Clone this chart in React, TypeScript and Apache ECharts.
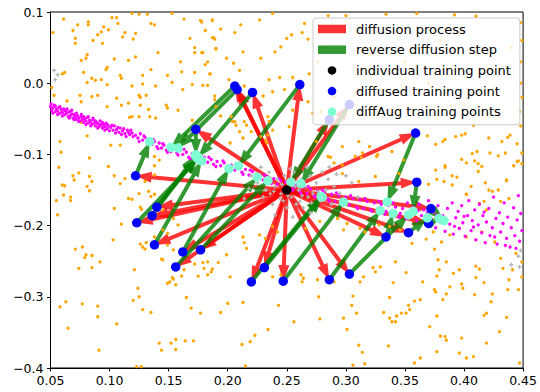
import React, { useEffect, useRef } from 'react';
import * as echarts from 'echarts';

const xTickLabels = ['0.05', '0.10', '0.15', '0.20', '0.25', '0.30', '0.35', '0.40', '0.45'];
const yTickLabels = ['−0.4', '−0.3', '−0.2', '−0.1', '0.0', '0.1'];

const legendNames = [
  'diffusion process',
  'reverse diffusion step',
  'individual training point',
  'diffused training point',
  'diffAug training points',
];

const trainingPoint = [[0.25, -0.15]];

const diffusedPoints = [
  [0.206, -0.004], [0.208, -0.009], [0.221, -0.013], [0.261, -0.002], [0.173, -0.065],
  [0.359, -0.070], [0.122, -0.130], [0.360, -0.139], [0.140, -0.174], [0.136, -0.186],
  [0.123, -0.196], [0.372, -0.176], [0.370, -0.197], [0.353, -0.210], [0.334, -0.216],
  [0.138, -0.227], [0.162, -0.237], [0.177, -0.234], [0.156, -0.258], [0.231, -0.259],
  [0.220, -0.279], [0.247, -0.278], [0.286, -0.276], [0.303, -0.268], [0.303, -0.030],
  [0.286, -0.051],
];

const augPoints = [
  [0.152, -0.090], [0.158, -0.091], [0.175, -0.104], [0.209, -0.116], [0.173, -0.101],
  [0.335, -0.167], [0.134, -0.082], [0.357, -0.180], [0.174, -0.105], [0.173, -0.101],
  [0.175, -0.106], [0.383, -0.193], [0.379, -0.190], [0.369, -0.189], [0.340, -0.183],
  [0.178, -0.109], [0.201, -0.120], [0.234, -0.137], [0.225, -0.132], [0.280, -0.160],
  [0.279, -0.159], [0.298, -0.167], [0.329, -0.179], [0.353, -0.185], [0.262, -0.141],
  [0.2535, -0.139],
];

const orangePoints = [
  [.061,.090],[.073,.082],[.082,.086],[.082,.082],[.095,.079],[.102,.092],[.106,.092],[.107,.084],[.119,.098],[.125,.097],
  [.132,.097],[.153,.098],[.163,.090],[.177,.088],[.187,.088],[.052,.071],[.069,.074],[.071,.063],[.071,.056],[.086,.060],
  [.090,.068],[.093,.072],[.094,.056],[.099,.075],[.113,.071],[.111,.065],[.120,.062],[.122,.070],[.135,.084],[.138,.082],
  [.168,.063],[.172,.050],[.172,.043],[.178,.043],[.188,.064],[.190,.049],[.081,.040],[.080,.035],[.076,.032],[.104,.034],
  [.116,.032],[.122,.037],[.141,.043],[.160,.030],[.161,.016],[.149,.011],[.135,.019],[.128,.011],[.109,.011],[.110,.007],
  [.098,.022],[.097,.019],[.078,.015],[.062,.015],[.060,.013],[.081,.001],[.085,.007],[.088,.004],[.093,.005],[.098,-.002],
  [.119,-.004],[.128,-.001],[.139,-.004],[.153,.001],[.162,-.009],[.170,-.002],[.172,.015],[.185,.013],[.189,-.018],[.051,-.006],
  [.053,-.017],[.064,-.025],[.075,-.017],[.076,-.026],[.085,-.019],[.090,-.017],[.098,-.033],[.106,-.021],[.110,-.031],[.116,-.028],
  [.125,-.017],[.126,-.020],[.126,-.031],[.131,-.017],[.133,-.037],[.134,-.047],[.139,-.049],[.148,-.031],[.149,-.035],[.158,-.038],
  [.117,-.048],[.119,-.047],[.125,-.047],[.076,-.055],[.081,-.074],[.058,-.082],[.059,-.097],[.101,-.087],[.109,-.087],[.083,-.105],
  [.057,-.118],[.074,-.126],[.069,-.130],[.083,-.131],[.085,-.138],[.099,-.117],[.104,-.130],[.138,-.103],[.142,-.108],[.138,-.116],
  [.060,-.143],[.062,-.144],[.070,-.136],[.081,-.145],[.109,-.141],[.113,-.134],[.130,-.138],[.138,-.129],[.190,-.033],[.194,-.046],
  [.170,-.052],
  [.061,-.157],[.067,-.160],[.067,-.165],[.083,-.151],[.055,-.165],[.056,-.185],[.116,-.162],[.119,-.163],[.125,-.155],[.133,-.152],
  [.135,-.159],[.138,-.156],[.126,-.174],[.127,-.177],[.104,-.176],[.110,-.198],[.145,-.178],[.154,-.190],[.158,-.199],[.145,-.206],
  [.149,-.211],[.103,-.220],[.126,-.226],[.128,-.230],[.131,-.224],[.130,-.233],[.138,-.216],[.149,-.227],[.154,-.234],[.071,-.233],
  [.077,-.230],[.080,-.241],[.079,-.245],[.085,-.242],[.092,-.251],[.074,-.260],[.085,-.259],[.121,-.262],[.144,-.247],[.145,-.248],
  [.163,-.262],[.172,-.254],[.179,-.252],[.183,-.251],[.180,-.260],[.186,-.265],[.187,-.261],[.175,-.271],[.183,-.269],[.192,-.252],
  [.199,-.241],[.202,-.272],[.213,-.216],[.214,-.224],[.216,-.232],[.153,-.273],[.154,-.275],[.151,-.279],[.149,-.281],[.156,-.283],
  [.161,-.271],[.124,-.288],[.125,-.300],[.120,-.305],[.128,-.318],[.135,-.322],[.165,-.301],[.169,-.316],[.177,-.323],[.194,-.322],
  [.200,-.309],[.213,-.308],[.058,-.314],[.063,-.307],[.077,-.310],[.090,-.313],[.090,-.328],[.106,-.338],[.065,-.344],[.091,-.375],
  [.142,-.365],[.144,-.375],[.152,-.365],[.156,-.360],[.156,-.374],[.164,-.362],[.171,-.362],[.212,-.367],[.215,-.397],[.123,-.398],
  [.127,-.398],
  [.227,-.213],[.232,-.218],[.238,-.201],[.242,-.209],[.266,-.204],[.278,-.194],[.293,-.190],[.298,-.206],[.301,-.197],[.312,-.204],
  [.316,-.209],[.328,-.199],[.337,-.201],[.346,-.206],[.351,-.213],[.356,-.225],[.368,-.219],[.374,-.209],[.375,-.233],[.381,-.223],
  [.388,-.213],[.396,-.204],[.402,-.156],[.413,-.169],[.417,-.166],[.419,-.178],[.431,-.166],[.438,-.162],[.402,-.216],[.410,-.220],
  [.415,-.209],[.426,-.223],[.431,-.246],[.433,-.260],[.441,-.262],[.449,-.251],[.449,-.272],[.446,-.290],[.437,-.290],[.424,-.296],
  [.417,-.280],[.410,-.273],[.396,-.262],[.398,-.282],[.399,-.288],[.409,-.297],[.423,-.307],[.419,-.323],[.417,-.326],[.436,-.329],
  [.430,-.349],[.419,-.365],[.402,-.386],[.396,-.379],[.398,-.358],[.385,-.361],[.384,-.356],[.380,-.355],[.371,-.342],[.377,-.377],
  [.377,-.327],[.382,-.304],[.385,-.296],[.375,-.290],[.376,-.293],[.379,-.262],[.385,-.251],[.378,-.248],[.365,-.279],[.363,-.304],
  [.358,-.306],[.353,-.312],[.354,-.318],[.351,-.323],[.347,-.323],[.343,-.327],[.337,-.330],[.342,-.335],[.339,-.335],[.332,-.322],
  [.337,-.301],[.342,-.251],[.329,-.258],[.323,-.259],[.315,-.272],[.312,-.279],[.306,-.299],[.305,-.312],[.309,-.323],[.301,-.346],
  [.298,-.330],[.277,-.300],[.278,-.331],[.264,-.274],[.263,-.279],[.243,-.312],[.234,-.346],[.223,-.354],[.219,-.363],[.256,-.335],
  [.311,-.368],[.314,-.378],[.316,-.394],[.306,-.396],[.336,-.369],[.358,-.393],[.363,-.386],[.447,-.393],[.408,-.384],[.245,-.269],
  [.238,-.272],[.262,-.269],[.276,-.276],[.290,-.279],[.340,-.280],[.325,-.265],[.351,-.266],[.377,-.271],[.391,-.267],[.388,-.286],
  [.410,-.257],[.413,-.261],[.438,-.276],[.444,-.239],
  [.178,.086],[.187,.089],[.181,.074],[.194,.076],[.206,.071],[.211,.082],[.227,.089],[.238,.098],[.265,.084],[.187,.064],
  [.189,.062],[.190,.048],[.179,.043],[.199,.035],[.205,.028],[.213,.044],[.210,.018],[.228,.035],[.183,.030],[.181,.026],
  [.185,.013],[.254,.068],[.250,.063],[.263,.071],[.268,.062],[.245,.051],[.240,.044],[.269,.013],[.255,.008],[.244,.008],
  [.235,.005],[.248,-.009],[.238,-.012],[.230,-.018],[.179,-.003],[.183,-.003],[.189,-.023],[.201,.005],[.214,-.004],
  [.408,-.059],[.369,-.074],[.376,-.086],[.382,-.082],[.384,-.079],[.393,-.075],[.398,-.073],[.401,-.071],[.421,-.077],[.432,-.082],
  [.437,-.076],[.439,-.073],[.445,-.085],[.407,-.099],[.411,-.096],[.409,-.109],[.412,-.113],[.412,-.124],[.415,-.117],[.422,-.098],
  [.435,-.098],[.445,-.110],[.398,-.107],[.402,-.112],[.376,-.122],[.384,-.118],[.394,-.132],[.370,-.142],[.383,-.138],[.390,-.143],
  [.402,-.156],[.421,-.150],[.424,-.152],[.429,-.150],[.436,-.137],[.449,-.113],[.449,-.098],
  [.287,-.104],[.290,-.112],[.297,-.115],[.314,-.098],[.327,-.100],[.313,-.104],[.377,-.135],[.384,-.116],[.429,-.102],[.442,-.116],
  [.446,-.109],[.436,-.136],[.418,-.140],[.406,-.145],[.390,-.130],[.325,-.131],[.311,-.138],
  [.311,-.082],[.320,-.089],[.326,-.103],[.339,-.096],[.308,-.103],[.297,-.089],[.297,-.127],[.285,-.103],[.275,-.082],[.345,-.127],
  [.349,-.108],
  [.204,-.054],[.207,-.059],[.214,-.054],[.210,-.068],[.213,-.077],[.202,-.084],[.235,-.054],[.234,-.073],[.233,-.084],
  [.203,-.047],[.206,-.054],[.216,-.059],[.234,-.047],[.238,-.066],[.228,-.075],[.232,-.080],[.220,-.068],[.255,-.038],[.268,-.026],
  [.272,-.042],[.252,-.061],
  [.280,.050],[.310,.070],[.350,.030],[.380,.060],[.420,.020],[.440,.050],[.330,-.010],[.400,-.030],[.290,-.020],[.370,.000],
  [.300,.095],[.360,.098],[.410,.094],[.449,.060],[.448,.000],[.447,-.040],[.320,.040],[.430,-.045],[.285,.095],[.334,.097],
  [.392,.096],[.448,.085],[.448,.030],[.449,-.020],[.448,-.060],[.276,.030],[.279,-.040],[.277,.075],
];

const magentaPoints = [
  [.050,-.033],[.051,-.038],[.052,-.035],[.053,-.031],[.054,-.040],[.055,-.036],[.056,-.039],[.057,-.034],[.058,-.042],[.059,-.037],
  [.060,-.041],[.061,-.036],[.062,-.044],[.063,-.039],[.064,-.042],[.065,-.047],[.066,-.040],[.067,-.045],[.068,-.043],[.069,-.049],
  [.070,-.044],[.071,-.047],[.072,-.051],[.073,-.046],[.074,-.049],[.075,-.053],[.076,-.047],[.077,-.051],[.078,-.055],[.079,-.050],
  [.080,-.053],[.081,-.048],[.082,-.056],[.083,-.052],[.084,-.054],[.085,-.058],[.086,-.051],[.087,-.056],[.088,-.060],[.089,-.055],
  [.090,-.057],[.091,-.061],[.092,-.053],[.093,-.059],[.094,-.063],[.095,-.058],[.096,-.061],[.097,-.056],[.098,-.064],[.099,-.060],
  [.101,-.062],[.103,-.066],[.104,-.060],[.106,-.065],[.108,-.069],[.109,-.063],[.111,-.067],[.113,-.071],[.115,-.066],[.117,-.072],
  [.119,-.070],[.120,-.075],
  [.0505,-.029],[.052,-.042],[.054,-.032],[.056,-.044],[.058,-.033],[.060,-.046],[.062,-.038],[.064,-.036],[.066,-.049],[.068,-.038],
  [.070,-.051],[.072,-.042],[.074,-.054],[.076,-.044],[.078,-.047],[.080,-.058],[.082,-.047],[.084,-.060],[.086,-.049],[.088,-.053],
  [.090,-.063],[.092,-.058],[.094,-.055],[.096,-.066],[.098,-.058],[.100,-.067],[.102,-.059],[.105,-.070],[.107,-.062],[.110,-.072],
  [.112,-.064],[.114,-.075],[.116,-.069],[.118,-.066],
  [.122,-.073],[.124,-.077],[.126,-.071],[.128,-.080],[.130,-.076],[.132,-.083],[.134,-.079],[.136,-.086],[.138,-.082],[.140,-.089],
  [.142,-.084],[.144,-.091],[.146,-.087],[.148,-.094],[.150,-.089],[.152,-.096],[.155,-.092],[.157,-.098],[.160,-.094],[.162,-.100],
  [.165,-.097],[.167,-.104],[.170,-.099],[.172,-.106],[.175,-.102],[.178,-.108],[.180,-.104],[.183,-.111],[.186,-.107],[.188,-.114],
  [.191,-.110],[.194,-.116],[.197,-.112],[.200,-.119],[.203,-.115],[.206,-.122],[.209,-.118],[.212,-.125],[.215,-.121],[.218,-.129],
  [.221,-.124],[.224,-.132],[.227,-.128],[.230,-.136],[.233,-.131],[.236,-.139],[.239,-.134],[.242,-.142],[.245,-.137],[.248,-.146],
  [.125,-.082],[.129,-.074],[.133,-.086],[.137,-.079],[.141,-.092],[.145,-.085],[.149,-.097],[.153,-.090],[.158,-.101],[.163,-.093],
  [.168,-.106],[.173,-.100],[.179,-.112],[.184,-.104],[.190,-.117],[.196,-.109],[.201,-.122],[.207,-.114],[.213,-.128],[.219,-.122],
  [.225,-.135],[.231,-.129],[.237,-.141],[.243,-.134],[.249,-.139],
  [.252,-.141],[.255,-.150],[.258,-.143],[.261,-.152],[.264,-.146],[.267,-.155],[.270,-.149],[.273,-.158],[.276,-.151],[.279,-.161],
  [.282,-.153],[.285,-.163],[.288,-.156],[.291,-.166],[.294,-.158],[.297,-.168],[.300,-.160],[.303,-.171],[.306,-.162],[.309,-.174],
  [.312,-.164],[.315,-.176],[.318,-.166],[.321,-.178],[.324,-.168],[.327,-.181],[.330,-.170],[.333,-.184],[.336,-.172],[.339,-.186],
  [.342,-.174],[.345,-.188],[.348,-.176],[.351,-.190],
  [.256,-.146],[.262,-.155],[.268,-.145],[.274,-.160],[.280,-.150],[.286,-.166],[.292,-.154],[.298,-.170],[.304,-.158],[.310,-.176],
  [.316,-.162],[.322,-.180],[.328,-.166],[.334,-.180],[.340,-.168],[.346,-.183],
  [.352,-.168],[.355,-.182],[.357,-.174],[.360,-.193],[.362,-.170],[.364,-.186],[.366,-.178],[.368,-.199],[.370,-.165],[.372,-.190],
  [.374,-.181],[.376,-.203],[.378,-.172],[.380,-.195],[.382,-.186],[.384,-.208],[.386,-.176],[.388,-.198],[.390,-.168],[.391,-.212],
  [.393,-.189],[.395,-.180],[.396,-.204],[.398,-.172],[.399,-.196],[.401,-.215],[.403,-.186],[.404,-.165],[.406,-.207],[.407,-.193],
  [.409,-.178],[.410,-.220],[.412,-.199],[.413,-.170],[.415,-.210],[.416,-.186],[.418,-.224],[.419,-.195],[.421,-.176],[.422,-.214],
  [.424,-.203],[.425,-.160],[.427,-.190],[.428,-.226],[.430,-.182],[.431,-.209],[.433,-.197],[.434,-.168],[.436,-.218],[.437,-.188],
  [.439,-.230],[.440,-.203],[.442,-.175],[.443,-.214],[.445,-.192],[.446,-.158],[.447,-.222],[.448,-.183],[.449,-.207],[.444,-.232],
  [.435,-.228],[.426,-.216],[.417,-.181],[.408,-.202],[.400,-.187],[.392,-.201],[.385,-.193],[.377,-.185],[.369,-.182],[.361,-.179],
];

const grayPoints = [
  [.220,-.130],[.225,-.140],[.230,-.160],[.235,-.125],[.238,-.170],[.240,-.145],[.242,-.135],[.245,-.155],[.247,-.165],[.248,-.130],
  [.252,-.140],[.254,-.160],[.256,-.125],[.258,-.170],[.260,-.150],[.262,-.135],[.264,-.175],[.266,-.145],[.268,-.160],[.270,-.130],
  [.272,-.155],[.275,-.140],[.278,-.165],[.280,-.125],[.283,-.150],[.285,-.135],[.288,-.170],[.290,-.145],[.295,-.155],[.300,-.130],
  [.232,-.150],[.236,-.155],[.244,-.162],[.250,-.175],[.253,-.120],[.257,-.145],[.263,-.158],[.267,-.118],[.271,-.168],[.276,-.152],
  [.228,-.118],[.218,-.148],[.214,-.162],[.240,-.185],[.255,-.188],[.270,-.182],[.286,-.118],[.292,-.128],[.305,-.140],[.310,-.160],
  [.246,-.142],[.251,-.158],[.259,-.138],[.239,-.152],[.261,-.166],
  [.053,.018],[.056,.012],[.054,.005],[.447,-.258],[.446,-.243],[.448,-.235],[.440,-.255],
];

const RED = 'rgba(255,0,0,0.8)';
const GREEN = 'rgba(0,128,0,0.8)';
const SHAFT = 2;
const HEAD_W = 5.5;
const HEAD_LEN = 16;

const makeArrow = (fill: string) => (_params: any, api: any) => {
  const a = api.coord([api.value(0), api.value(1)]);
  const b = api.coord([api.value(2), api.value(3)]);
  const dx = b[0] - a[0];
  const dy = b[1] - a[1];
  const L = Math.hypot(dx, dy) || 1;
  const ux = dx / L, uy = dy / L;
  const nx = -uy, ny = ux;
  const hl = Math.min(HEAD_LEN, L);
  const bx = b[0] - ux * hl, by = b[1] - uy * hl;
  const pts = [
    [a[0] + nx * SHAFT, a[1] + ny * SHAFT],
    [bx + nx * SHAFT, by + ny * SHAFT],
    [bx + nx * HEAD_W, by + ny * HEAD_W],
    [b[0], b[1]],
    [bx - nx * HEAD_W, by - ny * HEAD_W],
    [bx - nx * SHAFT, by - ny * SHAFT],
    [a[0] - nx * SHAFT, a[1] - ny * SHAFT],
  ];
  return { type: 'polygon', shape: { points: pts }, style: { fill } };
};

const FONT = 'DejaVu Sans';

export default function App() {
  const ref = useRef<HTMLDivElement>(null);
  useEffect(() => {
    if (!ref.current) return;
    const chart = echarts.init(ref.current, undefined, { renderer: 'svg' });
    const c = trainingPoint[0];
    const redData = diffusedPoints.map((p) => [c[0], c[1], p[0], p[1]]);
    const greenData = diffusedPoints.map((p, i) => [p[0], p[1], augPoints[i][0], augPoints[i][1]]);
    const axisCommon = {
      type: 'value' as const,
      axisLine: { show: true, onZero: false, lineStyle: { color: '#000', width: 1 } },
      axisTick: { show: true, length: 3.5, inside: false, lineStyle: { color: '#000', width: 1 } },
      splitLine: { show: false },
    };
    chart.setOption({
      animation: false,
      backgroundColor: '#fff',
      grid: { left: 50.5, right: 14, top: 12, bottom: 24, show: true, borderColor: '#000', borderWidth: 1 },
      xAxis: {
        ...axisCommon,
        min: 0.05, max: 0.45, interval: 0.05,
        axisLabel: {
          color: '#000', fontSize: 12.5, fontFamily: FONT, margin: 6,
          formatter: (v: number) => xTickLabels[Math.round((v - 0.05) / 0.05)] ?? '',
        },
      },
      yAxis: {
        ...axisCommon,
        min: -0.4, max: 0.1, interval: 0.1,
        axisLabel: {
          color: '#000', fontSize: 12.5, fontFamily: FONT, margin: 7,
          formatter: (v: number) => yTickLabels[Math.round((v + 0.4) / 0.1)] ?? '',
        },
      },
      legend: {
        orient: 'vertical',
        left: 313,
        top: 18,
        padding: [4.5, 9, 6.5, 5],
        itemWidth: 28,
        itemHeight: 8.5,
        itemGap: 7.7,
        selectedMode: false,
        backgroundColor: 'rgba(255,255,255,0.8)',
        borderColor: '#cccccc',
        borderWidth: 1,
        borderRadius: 3,
        textStyle: { fontSize: 13, fontFamily: FONT, color: '#000', padding: [0, 0, 0, 5] },
        data: [
          { name: legendNames[0], icon: 'rect', itemStyle: { color: RED } },
          { name: legendNames[1], icon: 'rect', itemStyle: { color: GREEN } },
          { name: legendNames[2], icon: 'circle', itemStyle: { color: '#000', opacity: 1 } },
          { name: legendNames[3], icon: 'circle', itemStyle: { color: '#0000ff', opacity: 1 } },
          { name: legendNames[4], icon: 'circle', itemStyle: { color: '#7fffd4', opacity: 1 } },
        ],
      },
      series: [
        {
          type: 'scatter', name: 'bg', data: orangePoints, symbolSize: 3.3, silent: true,
          itemStyle: { color: '#ffa500', opacity: 1 },
        },
        {
          type: 'scatter', name: 'band', data: magentaPoints, symbolSize: 3.3, silent: true,
          itemStyle: { color: '#ff00ff', opacity: 1 },
        },
        {
          type: 'scatter', name: 'cloud', data: grayPoints, symbolSize: 4, silent: true,
          symbol: 'path://M-1,-3H1V-1H3V1H1V3H-1V1H-3V-1H-1Z',
          itemStyle: { color: '#b4b4b4', opacity: 1 },
        },
        {
          type: 'custom', name: legendNames[0], data: redData, silent: true,
          encode: { x: [0, 2], y: [1, 3] }, itemStyle: { color: RED },
          renderItem: makeArrow(RED),
        },
        {
          type: 'custom', name: legendNames[1], data: greenData, silent: true,
          encode: { x: [0, 2], y: [1, 3] }, itemStyle: { color: GREEN },
          renderItem: makeArrow(GREEN),
        },
        {
          type: 'scatter', name: legendNames[3], data: diffusedPoints, symbolSize: 9.5, silent: true,
          itemStyle: { color: '#0000ff', opacity: 1 },
        },
        {
          type: 'scatter', name: legendNames[4], data: augPoints, symbolSize: 9.5, silent: true,
          itemStyle: { color: '#7fffd4', opacity: 1 },
        },
        {
          type: 'scatter', name: legendNames[2], data: trainingPoint, symbolSize: 9.5, silent: true,
          itemStyle: { color: '#000', opacity: 1 },
        },
      ],
    });
    return () => chart.dispose();
  }, []);
  return <div ref={ref} style={{ position: 'fixed', left: 0, top: 0, width: 540, height: 392 }} />;
}
